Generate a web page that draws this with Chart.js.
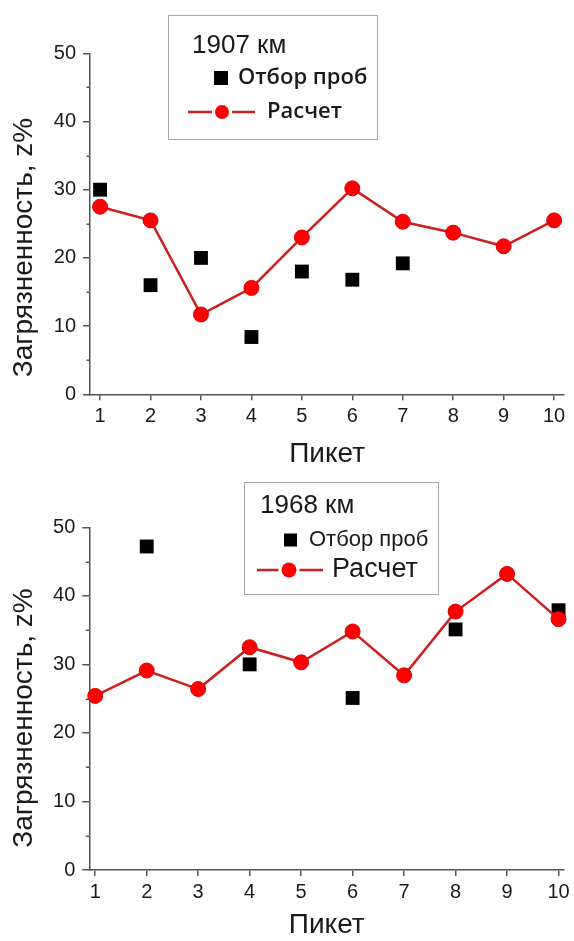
<!DOCTYPE html>
<html>
<head>
<meta charset="utf-8">
<script src="https://cdn.jsdelivr.net/npm/chart.js@4/dist/chart.umd.min.js"></script>
<style>
  html, body { margin: 0; padding: 0; background: #fff; }
  .panel { position: absolute; left: 0; width: 574px; }
  #p1 { top: 0; height: 470px; }
  #p2 { top: 470px; height: 471px; }
</style>
</head>
<body>
<div class="panel" id="p1"><canvas id="c1"></canvas></div>
<div class="panel" id="p2"><canvas id="c2"></canvas></div>
<script>
// data
const pickets = [1, 2, 3, 4, 5, 6, 7, 8, 9, 10];
const yTicks = [0, 10, 20, 30, 40, 50];
const yMinorTicks = [5, 15, 25, 35, 45];

const km1907SamplePickets = [1, 2, 3, 4, 5, 6, 7];
const km1907Samples = [30.0, 16.0, 20.0, 8.4, 18.0, 16.8, 19.2];
const km1907Calc = [27.5, 25.5, 11.7, 15.6, 23.0, 30.2, 25.3, 23.7, 21.7, 25.5];

const km1968SamplePickets = [2, 4, 6, 8, 10];
const km1968Samples = [47.2, 30.0, 25.1, 35.1, 37.9];
const km1968Calc = [25.4, 29.1, 26.4, 32.5, 30.3, 34.8, 28.4, 37.7, 43.2, 36.6];

const AXIS = "#555";
const TEXT = "#1a1a1a";
const LINE_RED = "#cc2020";
const DOT_RED = "#ff0000";
const ARIAL = "'Liberation Sans', Arial, sans-serif";

function toPoints(xs, ys) {
  return xs.map((x, i) => ({ x, y: ys[i] }));
}

// short minor ticks on the y axis
const minorTicks = {
  id: "minorTicks",
  afterDraw(chart) {
    const y = chart.scales.y;
    const left = chart.chartArea.left;
    const ctx = chart.ctx;
    ctx.save();
    ctx.strokeStyle = AXIS;
    ctx.lineWidth = 1.5;
    ctx.beginPath();
    yMinorTicks.forEach(v => {
      const py = Math.round(y.getPixelForValue(v)) + 0.25;
      ctx.moveTo(left - 3.5, py);
      ctx.lineTo(left, py);
    });
    ctx.stroke();
    ctx.restore();
  }
};

// rotated y title, sitting a bit below the middle of the axis like the original
const yTitle = {
  id: "yTitle",
  afterDraw(chart, args, o) {
    const ctx = chart.ctx;
    ctx.save();
    ctx.translate(o.x, o.y);
    ctx.rotate(-Math.PI / 2);
    ctx.font = o.font;
    ctx.fillStyle = TEXT;
    ctx.textAlign = "center";
    ctx.textBaseline = "middle";
    ctx.fillText(o.text, 0, 0);
    ctx.restore();
  }
};

// framed legend with a title line
const boxLegend = {
  id: "boxLegend",
  afterDraw(chart, args, o) {
    const ctx = chart.ctx;
    const sets = chart.data.datasets;
    ctx.save();
    ctx.strokeStyle = "#a8a8a8";
    ctx.lineWidth = 1;
    ctx.strokeRect(o.x + 0.5, o.y + 0.5, o.w, o.h);

    ctx.fillStyle = TEXT;
    ctx.textBaseline = "alphabetic";
    ctx.font = o.titleFont;
    ctx.fillText(o.title, o.titleX, o.titleY);

    // sample marker + label
    const s = o.square;
    ctx.fillStyle = "#000";
    ctx.fillRect(s.x, s.y - s.size / 2, s.size, s.size);
    ctx.fillStyle = TEXT;
    ctx.textBaseline = "middle";
    ctx.font = o.sampleFont;
    ctx.fillText(sets[1].label, o.sampleX, s.y);

    // calc marker + label
    const l = o.line;
    ctx.strokeStyle = LINE_RED;
    ctx.lineWidth = 2.5;
    ctx.beginPath();
    ctx.moveTo(l.x1, l.y);
    ctx.lineTo(l.cx - l.r - 3, l.y);
    ctx.moveTo(l.cx + l.r + 3, l.y);
    ctx.lineTo(l.x2, l.y);
    ctx.stroke();
    ctx.fillStyle = DOT_RED;
    ctx.beginPath();
    ctx.arc(l.cx, l.y, l.r, 0, Math.PI * 2);
    ctx.fill();
    ctx.fillStyle = TEXT;
    ctx.font = o.calcFont;
    ctx.fillText(sets[0].label, o.calcX, l.y);
    ctx.restore();
  }
};

function createPanel(canvasId, samplePickets, samples, calc, p) {
  const canvas = document.getElementById(canvasId);
  if (!canvas || typeof Chart === "undefined") return null;
  return new Chart(canvas, {
    type: "scatter",
    data: {
      datasets: [
        {
          label: "Расчет",
          data: toPoints(pickets, calc),
          showLine: true,
          borderColor: LINE_RED,
          borderWidth: 2.5,
          pointStyle: "circle",
          pointRadius: 7.5,
          pointBackgroundColor: DOT_RED,
          pointBorderColor: "#e00000",
          pointBorderWidth: 1,
          clip: false,
          order: 0
        },
        {
          label: "Отбор проб",
          data: toPoints(samplePickets, samples),
          pointStyle: "rect",
          pointRadius: 9.8,
          pointBackgroundColor: "#000",
          pointBorderWidth: 0,
          clip: false,
          order: 1
        }
      ]
    },
    options: {
      responsive: true,
      maintainAspectRatio: false,
      animation: false,
      events: [],
      layout: { padding: { top: p.top, right: p.right, left: 0, bottom: 0 } },
      scales: {
        x: {
          type: "linear",
          min: p.xMin,
          max: p.xMax,
          afterBuildTicks: s => { s.ticks = pickets.map(v => ({ value: v })); },
          afterFit: s => { s.height = p.xHeight; },
          grid: { drawOnChartArea: false, drawTicks: true, tickLength: 6, color: AXIS, lineWidth: 1.5 },
          border: { display: true, color: AXIS, width: 1.5 },
          ticks: { color: TEXT, font: { family: ARIAL, size: 20 }, padding: 4, maxRotation: 0 },
          title: {
            display: true,
            text: "Пикет",
            color: TEXT,
            font: { family: ARIAL, size: 28, lineHeight: 1.1 },
            padding: { top: 0, bottom: 0 }
          }
        },
        y: {
          min: 0,
          max: 50,
          afterBuildTicks: s => { s.ticks = yTicks.map(v => ({ value: v })); },
          afterFit: s => { s.width = p.yWidth; },
          grid: { drawOnChartArea: false, drawTicks: true, tickLength: 7, color: AXIS, lineWidth: 1.5 },
          border: { display: true, color: AXIS, width: 1.5 },
          ticks: { color: TEXT, font: { family: ARIAL, size: 20 }, padding: 7 }
        }
      },
      plugins: {
        legend: { display: false },
        tooltip: { enabled: false },
        yTitle: { text: "Загрязненность, z%", x: 24.5, y: p.yTitleY, font: "28px " + ARIAL },
        boxLegend: p.legend
      }
    },
    plugins: [minorTicks, yTitle, boxLegend]
  });
}

createPanel("c1", km1907SamplePickets, km1907Samples, km1907Calc, {
  top: 53.3, right: 8, xHeight: 75.7, yWidth: 90, xMin: 0.8, xMax: 10.2, yTitleY: 247.5,
  legend: {
    x: 168, y: 15, w: 209, h: 124,
    title: "1907 км", titleX: 192, titleY: 52.7, titleFont: "26px " + ARIAL,
    square: { x: 214, y: 78, size: 14 },
    sampleX: 238, sampleFont: "600 22px 'Open Sans', sans-serif",
    line: { x1: 188, x2: 255, cx: 222, r: 7, y: 112 },
    calcX: 267, calcFont: "600 22px 'Open Sans', sans-serif"
  }
});

createPanel("c2", km1968SamplePickets, km1968Samples, km1968Calc, {
  top: 57.3, right: 8.3, xHeight: 71, yWidth: 89.3, xMin: 0.885, xMax: 10.11, yTitleY: 248,
  legend: {
    x: 244, y: 12, w: 194, h: 112,
    title: "1968 км", titleX: 260, titleY: 43, titleFont: "26px " + ARIAL,
    square: { x: 284, y: 70, size: 13 },
    sampleX: 309, sampleFont: "22px " + ARIAL,
    line: { x1: 257, x2: 323, cx: 289, r: 7.5, y: 100 },
    calcX: 332, calcFont: "27px " + ARIAL
  }
});
</script>
</body>
</html>
